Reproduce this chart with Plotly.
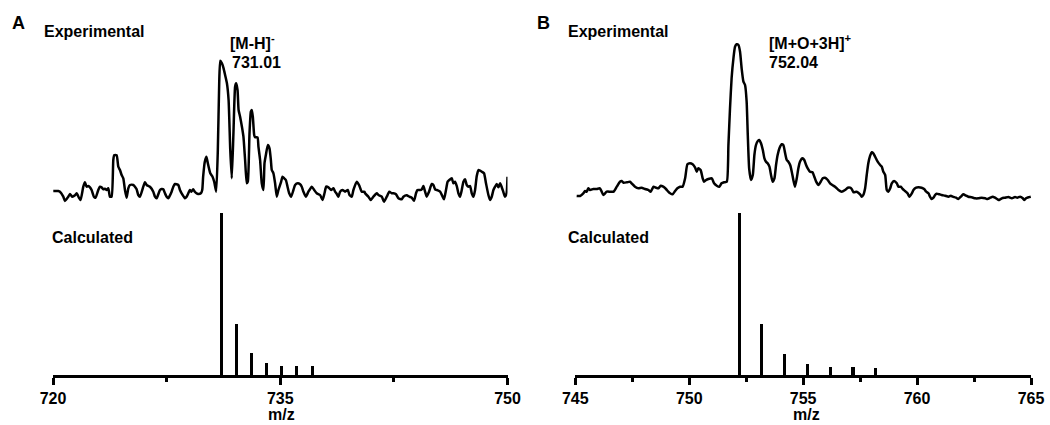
import plotly.graph_objects as go

# ---------------- data ----------------
# Panel A experimental spectrum (m/z, relative intensity)
a_exp_mz = [720.02, 720.35, 720.46, 720.68, 720.79, 721.01, 721.12, 721.27, 721.45, 721.56, 721.71, 721.82,
            722.00, 722.11, 722.22, 722.33, 722.44, 722.55, 722.70, 722.81, 722.99, 723.10, 723.21, 723.32,
            723.43, 723.54, 723.65, 723.76, 723.87, 723.98, 724.04, 724.20, 724.31, 724.42, 724.53, 724.64,
            724.75, 724.86, 724.97, 725.08, 725.30, 725.41, 725.52, 725.63, 725.74, 725.96, 726.07, 726.18,
            726.40, 726.62, 726.73, 726.84, 727.06, 727.17, 727.28, 727.39, 727.50, 727.61, 727.83, 727.94,
            728.05, 728.27, 728.38, 728.49, 728.71, 728.82, 728.93, 729.03, 729.14, 729.25, 729.36, 729.47,
            729.58, 729.76, 729.85, 729.91, 730.02, 730.13, 730.22, 730.38, 730.53, 730.64, 730.77, 730.88,
            730.97, 731.04, 731.15, 731.26, 731.36, 731.48, 731.59, 731.70, 731.80, 731.91, 732.02, 732.09,
            732.18, 732.25, 732.35, 732.47, 732.57, 732.68, 732.79, 732.86, 732.97, 733.06, 733.12, 733.19,
            733.28, 733.34, 733.50, 733.56, 733.67, 733.78, 733.89, 733.96, 734.05, 734.18, 734.29, 734.38,
            734.44, 734.55, 734.66, 734.77, 734.88, 735.06, 735.15, 735.26, 735.37, 735.48, 735.59, 735.72,
            735.87, 735.98, 736.16, 736.31, 736.42, 736.53, 736.69, 736.86, 737.08, 737.24, 737.41, 737.63,
            737.79, 737.92, 738.03, 738.18, 738.36, 738.51, 738.62, 738.73, 738.84, 738.95, 739.11, 739.28,
            739.46, 739.57, 739.72, 739.83, 740.05, 740.20, 740.38, 740.56, 740.60, 740.82, 740.97, 741.15,
            741.37, 741.48, 741.70, 741.85, 742.03, 742.20, 742.36, 742.47, 742.64, 742.80, 743.02, 743.13,
            743.35, 743.52, 743.68, 743.83, 743.96, 744.05, 744.23, 744.34, 744.45, 744.56, 744.67, 744.82,
            745.00, 745.11, 745.22, 745.33, 745.55, 745.72, 745.81, 745.94, 746.05, 746.16, 746.32, 746.43,
            746.54, 746.65, 746.76, 746.87, 746.98, 747.09, 747.20, 747.31, 747.42, 747.53, 747.64, 747.75,
            747.86, 747.97, 748.08, 748.19, 748.30, 748.45, 748.58, 748.74, 748.85, 748.96, 749.07, 749.18,
            749.29, 749.40, 749.51, 749.61, 749.72, 749.83, 749.94, 750.00]
a_exp_int = [19.0, 19.0, 18.3, 13.3, 9.0, 13.3, 16.0, 13.3, 14.7, 16.7, 12.3, 10.0,
             23.3, 27.7, 23.3, 24.0, 22.7, 20.0, 13.3, 12.3, 20.0, 23.3, 22.7, 20.7,
             21.3, 20.0, 21.7, 13.3, 13.3, 50.0, 54.7, 54.7, 43.3, 40.0, 35.0, 31.7,
             20.0, 12.3, 21.7, 25.0, 25.0, 23.3, 20.7, 15.0, 13.3, 23.3, 27.7, 25.0,
             23.3, 18.3, 13.3, 11.7, 20.0, 21.0, 20.7, 16.7, 13.3, 11.7, 18.3, 23.3,
             26.0, 25.0, 20.0, 16.7, 11.7, 13.3, 16.7, 20.0, 18.3, 20.7, 18.3, 16.7,
             16.0, 16.7, 20.0, 33.3, 48.3, 53.3, 46.7, 36.7, 33.3, 28.3, 18.3, 60.0,
             126.7, 149.3, 146.7, 141.7, 135.0, 126.7, 110.0, 60.0, 31.7, 76.7, 123.3, 126.7,
             120.0, 100.0, 93.3, 83.3, 73.3, 50.0, 26.7, 28.3, 76.7, 98.3, 100.0, 93.3,
             75.0, 72.7, 72.7, 63.3, 50.0, 26.7, 20.0, 46.7, 55.0, 65.0, 61.7, 50.0,
             40.0, 36.7, 26.7, 13.3, 20.0, 28.3, 33.3, 31.7, 30.0, 23.3, 16.7, 13.3,
             20.0, 25.0, 26.7, 25.7, 23.3, 18.3, 13.3, 18.3, 23.3, 20.0, 16.7, 15.0,
             10.0, 16.7, 23.3, 22.7, 20.0, 21.7, 18.3, 16.0, 13.3, 18.3, 20.0, 18.3,
             20.0, 15.0, 13.3, 20.0, 28.3, 25.0, 18.3, 18.3, 16.7, 13.3, 10.0, 13.3,
             16.7, 15.0, 13.3, 8.3, 13.3, 18.3, 16.7, 16.7, 15.7, 11.7, 10.7, 13.3,
             14.7, 13.3, 12.3, 9.3, 16.7, 20.0, 20.0, 20.7, 24.0, 18.3, 13.3, 18.3,
             26.0, 25.0, 20.7, 20.0, 18.3, 13.3, 10.7, 20.0, 28.3, 30.0, 31.7, 26.7,
             28.3, 24.0, 16.7, 13.3, 20.0, 28.3, 30.7, 25.0, 23.3, 24.0, 16.7, 13.3,
             20.0, 34.0, 40.0, 39.3, 38.3, 36.7, 26.7, 15.0, 10.0, 13.3, 20.0, 23.3,
             26.0, 22.7, 26.7, 23.3, 18.3, 13.3, 16.7, 33.3]

# Panel A calculated isotope pattern
a_calc_mz = [731.1, 732.1, 733.1, 734.1, 735.1, 736.1, 737.1]
a_calc_int = [100, 31.7, 13.7, 7.6, 5.5, 5.5, 5.5]

# Panel B experimental spectrum
b_exp_mz = [745.06, 745.21, 745.35, 745.43, 745.50, 745.57, 745.65, 745.79, 745.94, 746.08, 746.16, 746.23,
            746.38, 746.53, 746.68, 746.82, 746.96, 747.04, 747.11, 747.26, 747.40, 747.47, 747.62, 747.77,
            747.91, 748.06, 748.21, 748.31, 748.43, 748.54, 748.65, 748.75, 748.86, 748.98, 749.08, 749.16,
            749.27, 749.38, 749.48, 749.60, 749.71, 749.82, 749.92, 750.03, 750.15, 750.26, 750.33, 750.40,
            750.50, 750.59, 750.65, 750.74, 750.84, 750.99, 751.09, 751.21, 751.32, 751.42, 751.53, 751.65,
            751.72, 751.79, 751.86, 751.94, 752.01, 752.08, 752.16, 752.23, 752.30, 752.38, 752.45, 752.52,
            752.57, 752.63, 752.71, 752.79, 752.86, 752.93, 753.01, 753.08, 753.15, 753.23, 753.30, 753.37,
            753.44, 753.52, 753.59, 753.66, 753.74, 753.81, 753.88, 753.96, 754.06, 754.13, 754.21, 754.28,
            754.35, 754.43, 754.50, 754.57, 754.64, 754.72, 754.79, 754.86, 754.97, 755.05, 755.13, 755.20,
            755.30, 755.41, 755.49, 755.57, 755.67, 755.77, 755.86, 755.96, 756.08, 756.18, 756.28, 756.40,
            756.55, 756.69, 756.84, 756.96, 757.06, 757.13, 757.21, 757.35, 757.50, 757.57, 757.64, 757.72,
            757.79, 757.86, 757.94, 758.01, 758.08, 758.16, 758.27, 758.38, 758.45, 758.52, 758.60, 758.67,
            758.74, 758.82, 758.89, 758.99, 759.11, 759.18, 759.28, 759.37, 759.47, 759.58, 759.66, 759.77,
            759.84, 759.96, 760.06, 760.20, 760.31, 760.40, 760.50, 760.57, 760.64, 760.72, 760.79, 760.86,
            760.98, 761.08, 761.23, 761.38, 761.48, 761.57, 761.71, 761.81, 761.92, 762.03, 762.15, 762.25,
            762.40, 762.55, 762.69, 762.84, 762.99, 763.09, 763.21, 763.32, 763.42, 763.53, 763.61, 763.72,
            763.86, 764.01, 764.16, 764.30, 764.40, 764.52, 764.64, 764.70, 764.78, 764.89, 764.99]
b_exp_int = [14.0, 14.0, 16.7, 19.0, 18.3, 21.7, 20.0, 21.0, 21.0, 21.7, 18.3, 15.0,
             18.3, 18.3, 18.3, 23.3, 28.3, 29.0, 27.3, 27.7, 28.3, 26.7, 23.3, 21.7,
             22.3, 21.0, 20.0, 18.3, 23.3, 22.3, 21.7, 24.3, 23.3, 21.0, 18.3, 16.7,
             15.7, 19.0, 21.7, 23.3, 23.3, 31.7, 45.7, 46.7, 45.7, 42.3, 38.3, 41.7,
             40.0, 31.7, 28.3, 30.0, 31.0, 31.7, 26.7, 24.3, 23.3, 26.7, 27.7, 28.3,
             65.0, 101.7, 131.7, 151.7, 163.3, 165.7, 165.0, 158.3, 141.7, 128.3, 125.0, 108.3,
             75.0, 41.7, 30.0, 35.0, 55.0, 65.0, 69.0, 70.0, 66.7, 60.0, 51.7, 48.3,
             46.7, 43.3, 35.0, 28.3, 31.7, 45.0, 55.0, 61.7, 65.7, 65.0, 56.7, 50.0,
             48.3, 45.0, 38.3, 30.0, 23.3, 31.7, 41.7, 48.3, 51.7, 50.0, 45.0, 41.7,
             38.3, 37.7, 33.3, 28.3, 25.0, 28.3, 31.7, 32.3, 30.0, 26.7, 25.0, 23.3,
             20.0, 18.3, 20.0, 22.3, 22.3, 21.0, 17.7, 18.3, 15.7, 13.3, 15.0, 21.7,
             35.0, 46.7, 54.3, 57.7, 56.7, 53.3, 48.3, 45.0, 43.3, 38.3, 35.0, 20.0,
             18.3, 21.7, 26.7, 29.0, 26.7, 23.3, 23.3, 21.0, 19.0, 16.7, 13.3, 16.7,
             20.0, 22.3, 22.7, 22.3, 21.0, 18.3, 16.7, 13.3, 11.0, 12.3, 15.0, 16.3,
             15.7, 15.0, 14.3, 13.3, 14.3, 13.3, 12.3, 11.0, 13.3, 15.7, 14.3, 13.3,
             12.7, 11.7, 11.7, 12.3, 11.7, 11.0, 12.3, 13.3, 12.3, 10.7, 10.0, 11.7,
             12.3, 13.0, 11.7, 13.0, 12.3, 13.3, 11.7, 10.0, 11.7, 12.7, 13.3]

# Panel B calculated isotope pattern
b_calc_mz = [752.2, 753.2, 754.2, 755.2, 756.2, 757.2, 758.2]
b_calc_int = [100, 31.5, 13.2, 7.0, 5.2, 5.2, 4.7]

a_tickvals = [720, 735, 750]
b_tickvals = [745, 750, 755, 760, 765]
x_title = "m/z"

# ---------------- figure ----------------
FONT = "Liberation Sans, Arial, Helvetica, sans-serif"
W, H = 1050, 425

def px(x):
    return x / W

def py(y):
    return 1 - y / H

left_dom = [px(53), px(507.5)]
right_dom = [px(575.3), px(1031)]
calc_dom = [py(375), py(212.7)]
exp_dom = [py(210), py(40)]

fig = go.Figure()

line_style = dict(color="black", width=2.5, shape="spline", smoothing=0.5)
fig.add_trace(go.Scatter(x=a_exp_mz, y=a_exp_int, mode="lines", line=line_style,
                         xaxis="x2", yaxis="y2", showlegend=False, hoverinfo="skip"))
fig.add_trace(go.Bar(x=a_calc_mz, y=a_calc_int, width=0.2, marker=dict(color="black", line=dict(width=0)),
                     xaxis="x", yaxis="y", showlegend=False))
fig.add_trace(go.Scatter(x=b_exp_mz, y=b_exp_int, mode="lines", line=line_style,
                         xaxis="x4", yaxis="y4", showlegend=False, hoverinfo="skip"))
fig.add_trace(go.Bar(x=b_calc_mz, y=b_calc_int, width=0.135, marker=dict(color="black", line=dict(width=0)),
                     xaxis="x3", yaxis="y3", showlegend=False))

tickfont = dict(family=FONT, size=16, color="black", weight="bold")
common_x = dict(showline=True, linecolor="black", linewidth=2.5, ticks="outside", ticklen=7,
                tickwidth=2.5, tickcolor="black", showgrid=False, zeroline=False,
                tickfont=tickfont, ticklabelstandoff=0, automargin=False)

fig.update_layout(
    width=W, height=H, margin=dict(l=0, r=0, t=0, b=0),
    paper_bgcolor="white", plot_bgcolor="white", bargap=0,
    xaxis=dict(domain=left_dom, range=[720, 750], tickvals=a_tickvals, anchor="y",
               minor=dict(dtick=7.5, tick0=720, ticks="outside", ticklen=4, tickwidth=2.5, tickcolor="black"),
               **common_x),
    yaxis=dict(domain=calc_dom, range=[0, 100], visible=False, anchor="x", automargin=False),
    xaxis2=dict(domain=left_dom, range=[720, 750], visible=False, anchor="y2", automargin=False),
    yaxis2=dict(domain=exp_dom, range=[0, 170], visible=False, anchor="x2", automargin=False),
    xaxis3=dict(domain=right_dom, range=[745, 765], tickvals=b_tickvals, anchor="y3",
                minor=dict(dtick=2.5, tick0=745, ticks="outside", ticklen=4, tickwidth=2.5, tickcolor="black"),
                **common_x),
    yaxis3=dict(domain=calc_dom, range=[0, 100], visible=False, anchor="x3", automargin=False),
    xaxis4=dict(domain=right_dom, range=[745, 765], visible=False, anchor="y4", automargin=False),
    yaxis4=dict(domain=exp_dom, range=[0, 170], visible=False, anchor="x4", automargin=False),
)

def label(text, x, y, size=16, xanchor="left", yanchor="middle"):
    fig.add_annotation(text=text, x=px(x), y=py(y), xref="paper", yref="paper",
                       xanchor=xanchor, yanchor=yanchor, showarrow=False,
                       font=dict(family=FONT, size=size, color="black", weight="bold"))

label("A", 10, 23, size=18)
label("B", 535, 23, size=18)
label("Experimental", 42, 31)
label("Experimental", 566, 31)
label("Calculated", 50, 237)
label("Calculated", 566, 237)
label("[M-H]<sup>-</sup>", 252, 42, xanchor="center")
label("731.01", 256, 63, xanchor="center")
label("[M+O+3H]<sup>+</sup>", 810, 42, xanchor="center")
label("752.04", 793, 63, xanchor="center")
label(x_title, 281, 425, size=16, xanchor="center", yanchor="bottom")
label(x_title, 806, 425, size=16, xanchor="center", yanchor="bottom")

fig.write_html("out.html")
